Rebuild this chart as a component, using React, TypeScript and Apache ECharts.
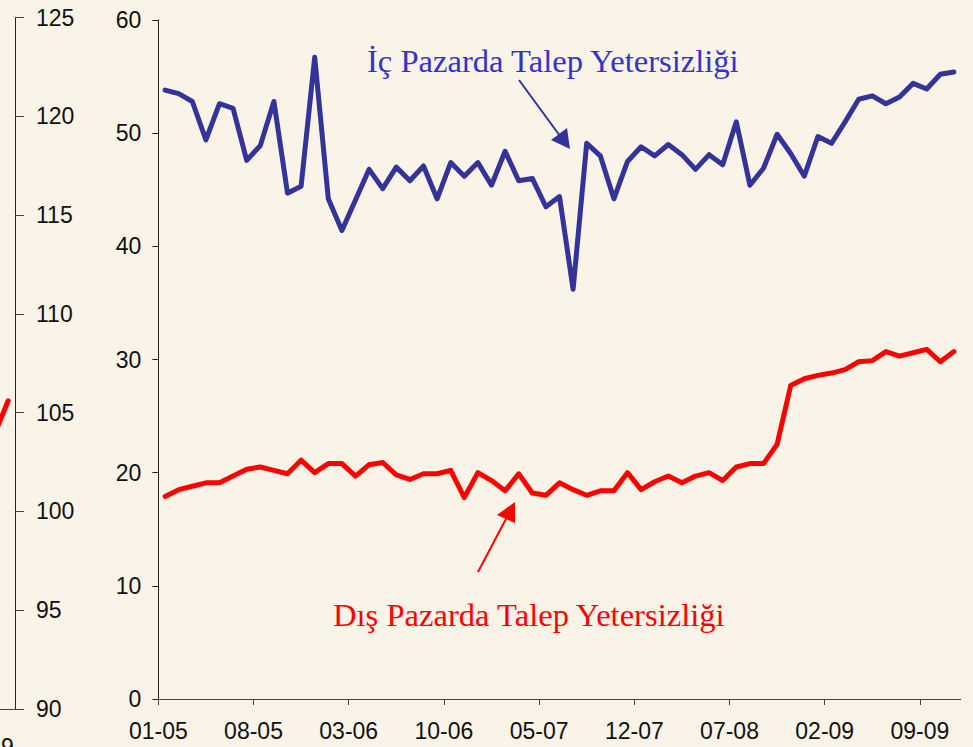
import React, { useEffect, useRef } from "react";
import * as echarts from "echarts";

const months = [
  "01-05","02-05","03-05","04-05","05-05","06-05","07-05","08-05","09-05","10-05","11-05","12-05",
  "01-06","02-06","03-06","04-06","05-06","06-06","07-06","08-06","09-06","10-06","11-06","12-06",
  "01-07","02-07","03-07","04-07","05-07","06-07","07-07","08-07","09-07","10-07","11-07","12-07",
  "01-08","02-08","03-08","04-08","05-08","06-08","07-08","08-08","09-08","10-08","11-08","12-08",
  "01-09","02-09","03-09","04-09","05-09","06-09","07-09","08-09","09-09","10-09","11-09"
];

const tickIndices = [0, 7, 14, 21, 28, 35, 42, 49, 56];

const icPazar = [
  53.8, 53.5, 52.8, 49.4, 52.6, 52.2, 47.6, 48.9, 52.8, 44.7, 45.3, 56.7,
  44.2, 41.4, 44.1, 46.8, 45.1, 47.0, 45.8, 47.1, 44.2, 47.4, 46.2, 47.4,
  45.4, 48.4, 45.8, 46.0, 43.5, 44.4, 36.2, 49.1, 48.0, 44.2, 47.5, 48.8,
  48.0, 49.0, 48.1, 46.8, 48.1, 47.2, 51.0, 45.4, 46.9, 49.9, 48.2, 46.2,
  49.7, 49.1, 51.0, 53.0, 53.3, 52.6, 53.2, 54.4, 53.9, 55.2, 55.4
];

const disPazar = [
  17.9, 18.5, 18.8, 19.1, 19.1, 19.7, 20.3, 20.5, 20.2, 19.9, 21.1, 20.0,
  20.8, 20.8, 19.7, 20.7, 20.9, 19.8, 19.4, 19.9, 19.9, 20.2, 17.8, 20.0,
  19.3, 18.4, 19.9, 18.2, 18.0, 19.1, 18.5, 18.0, 18.4, 18.4, 20.0, 18.5,
  19.2, 19.7, 19.1, 19.7, 20.0, 19.3, 20.5, 20.8, 20.8, 22.5, 27.7, 28.3,
  28.6, 28.8, 29.1, 29.8, 29.9, 30.7, 30.3, 30.6, 30.9, 29.8, 30.7
];

// fragment of the neighbouring (cropped) chart on the left
const leftFragment = [103.9, 105.6];

const BG = "#F9F3E8";
const AXIS_FONT = "'Liberation Sans', Arial, sans-serif";
const SERIF = "'Liberation Serif', 'Times New Roman', serif";

export default function App() {
  const ref = useRef<HTMLDivElement>(null);

  useEffect(() => {
    document.body.style.margin = "0";
    document.body.style.background = BG;
    if (!ref.current) return;
    const chart = echarts.init(ref.current, null, { renderer: "svg" });

    const option: any = {
      animation: false,
      backgroundColor: BG,
      grid: [
        { left: 158.3, right: 12.3, top: 20, bottom: 48, outerBoundsMode: "none" },
        { left: 0, width: 15, top: 17.5, bottom: 38, outerBoundsMode: "none" }
      ],
      xAxis: [
        {
          type: "value",
          gridIndex: 0,
          min: 0,
          max: months.length,
          splitLine: { show: false },
          axisLine: { show: true, onZero: false, lineStyle: { color: "#444", width: 1 } },
          axisTick: {
            show: true,
            inside: false,
            length: 6,
            customValues: tickIndices,
            lineStyle: { color: "#444" }
          },
          axisLabel: {
            customValues: tickIndices,
            formatter: (v: number) => months[Math.round(v)] ?? "",
            fontFamily: AXIS_FONT,
            fontSize: 23,
            color: "#111",
            margin: 20
          }
        },
        {
          type: "value",
          gridIndex: 1,
          min: 0,
          max: 1.1,
          splitLine: { show: false },
          axisLine: { show: true, onZero: false, lineStyle: { color: "#444", width: 1 } },
          axisTick: { show: false },
          axisLabel: { show: false }
        }
      ],
      yAxis: [
        {
          type: "value",
          gridIndex: 0,
          min: 0,
          max: 60,
          interval: 10,
          splitLine: { show: false },
          axisLine: { show: true, onZero: false, lineStyle: { color: "#222", width: 1 } },
          axisTick: { show: true, inside: false, length: 6, lineStyle: { color: "#222" } },
          axisLabel: {
            fontFamily: AXIS_FONT,
            fontSize: 23,
            color: "#111",
            margin: 17
          }
        },
        {
          type: "value",
          gridIndex: 1,
          position: "right",
          min: 90,
          max: 125,
          interval: 5,
          splitLine: { show: false },
          axisLine: { show: true, onZero: false, lineStyle: { color: "#222", width: 1 } },
          axisTick: { show: true, inside: false, length: 9, lineStyle: { color: "#444" } },
          axisLabel: {
            fontFamily: AXIS_FONT,
            fontSize: 23,
            color: "#111",
            margin: 21
          }
        }
      ],
      series: [
        {
          name: "İç Pazarda Talep Yetersizliği",
          type: "line",
          xAxisIndex: 0,
          yAxisIndex: 0,
          symbol: "none",
          data: icPazar.map((v, i) => [i + 0.5, v]),
          lineStyle: { color: "#333399", width: 5, join: "round", cap: "round" }
        },
        {
          name: "Dış Pazarda Talep Yetersizliği",
          type: "line",
          xAxisIndex: 0,
          yAxisIndex: 0,
          symbol: "none",
          data: disPazar.map((v, i) => [i + 0.5, v]),
          lineStyle: { color: "#FF0000", width: 5, join: "round", cap: "round" }
        },
        {
          type: "line",
          xAxisIndex: 1,
          yAxisIndex: 1,
          symbol: "none",
          clip: false,
          data: leftFragment.map((v, i) => [i - 0.4, v]),
          lineStyle: { color: "#FF0000", width: 5, cap: "round" }
        }
      ],
      graphic: [
        {
          type: "text",
          x: 367,
          y: 61,
          style: {
            text: "İç Pazarda Talep Yetersizliği",
            font: `32.6px ${SERIF}`,
            fill: "#3333CC",
            verticalAlign: "middle",
            align: "left"
          }
        },
        {
          type: "line",
          shape: { x1: 519, y1: 80, x2: 560, y2: 136 },
          style: { stroke: "#333399", lineWidth: 2 }
        },
        {
          type: "polygon",
          shape: { points: [[570, 149], [551, 140], [567, 128]] },
          style: { fill: "#333399" }
        },
        {
          type: "text",
          x: 333,
          y: 615,
          style: {
            text: "Dış Pazarda Talep Yetersizliği",
            font: `32.6px ${SERIF}`,
            fill: "#FF0000",
            verticalAlign: "middle",
            align: "left"
          }
        },
        {
          type: "line",
          shape: { x1: 478, y1: 572, x2: 507, y2: 517 },
          style: { stroke: "#FF0000", lineWidth: 2 }
        },
        {
          type: "polygon",
          shape: { points: [[515, 502], [497, 515], [515, 523]] },
          style: { fill: "#FF0000" }
        },
        {
          type: "text",
          x: 1,
          y: 735,
          style: {
            text: "9",
            font: `23px ${AXIS_FONT}`,
            fill: "#111",
            verticalAlign: "top",
            align: "left"
          }
        }
      ]
    };

    chart.setOption(option);
    return () => chart.dispose();
  }, []);

  return (
    <div
      ref={ref}
      style={{ position: "fixed", left: 0, top: 0, width: 973, height: 747 }}
    />
  );
}
